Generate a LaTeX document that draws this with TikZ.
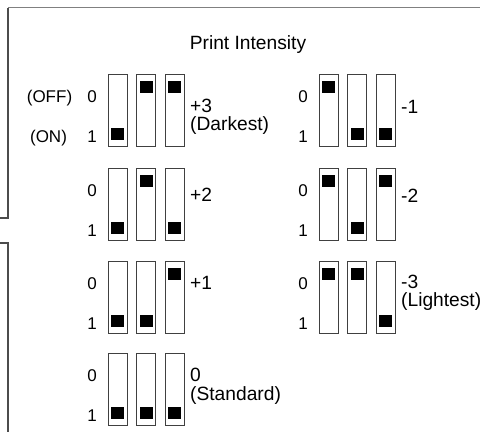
\documentclass[tikz,border=0pt]{standalone}
\usepackage{fontspec}
\setmainfont{Liberation Sans}
\begin{document}
\begin{tikzpicture}[x=1pt, y=-1pt,
  switchbox/.style={draw=black!75, line width=0.9pt, fill=white},
  knob/.style={fill=black},
  biglabel/.style={font=\fontsize{19.2}{21}\selectfont, inner sep=0pt, anchor=base west},
  smalllabel/.style={font=\fontsize{17}{19}\selectfont, inner sep=0pt, anchor=base}]
  \useasboundingbox (0,0) rectangle (480,432);
  % frame
  \draw[gray, line width=1.6pt] (8,7.5) -- (480,7.5);
  \draw[black!70, line width=1.1pt] (8,7.5) -- (8,218) -- (0,218);
  \draw[black!70, line width=1.1pt] (0,243) -- (8,243) -- (8,432);
  % title
  \node[font=\fontsize{19.2}{21}\selectfont, inner sep=0pt, anchor=base] (title) at (248,49.5) {Print Intensity};
  % switch legend
  \node[smalllabel] (off) at (49.5,102) {(OFF)};
  \node[smalllabel] (on) at (48.5,142.5) {(ON)};
  % switch groups: left edge, top, state of the three switches (1 = ON)
  \foreach \gx/\gy/\sa/\sb/\sc [count=\g] in {108/74/1/0/0, 108/168/1/0/1, 108/261/1/1/0,
      108/353/1/1/1, 319/74/0/1/1, 319/168/0/1/0, 319/261/0/0/1}{
    \foreach \s [count=\i from 0] in {\sa,\sb,\sc}{
      \pgfmathsetmacro{\xl}{\gx+28.7*\i}
      \pgfmathsetmacro{\ky}{\gy+6.5+47*\s}
      \draw[switchbox] (\xl,\gy) rectangle ++(19,72);
      \fill[knob] (\xl+3,\ky) rectangle ++(13,12.5);
    }
    \node[smalllabel] (zero\g) at (\gx-16,\gy+28) {0};
    \node[smalllabel] (one\g) at (\gx-16,\gy+68) {1};
  }
  % intensity values
  \node[biglabel] (p3) at (190,112.5) {+3};
  \node[biglabel] (p3b) at (190,130.5) {(Darkest)};
  \node[biglabel] (p2) at (190,201.5) {+2};
  \node[biglabel] (p1) at (190,289.5) {+1};
  \node[biglabel] (z0) at (190,381.5) {0};
  \node[biglabel] (z0b) at (190,400) {(Standard)};
  \node[biglabel] (m1) at (401,113.5) {-1};
  \node[biglabel] (m2) at (401,202.5) {-2};
  \node[biglabel] (m3) at (401,288.5) {-3};
  \node[biglabel] (m3b) at (401,306) {(Lightest)};
\end{tikzpicture}
\end{document}
